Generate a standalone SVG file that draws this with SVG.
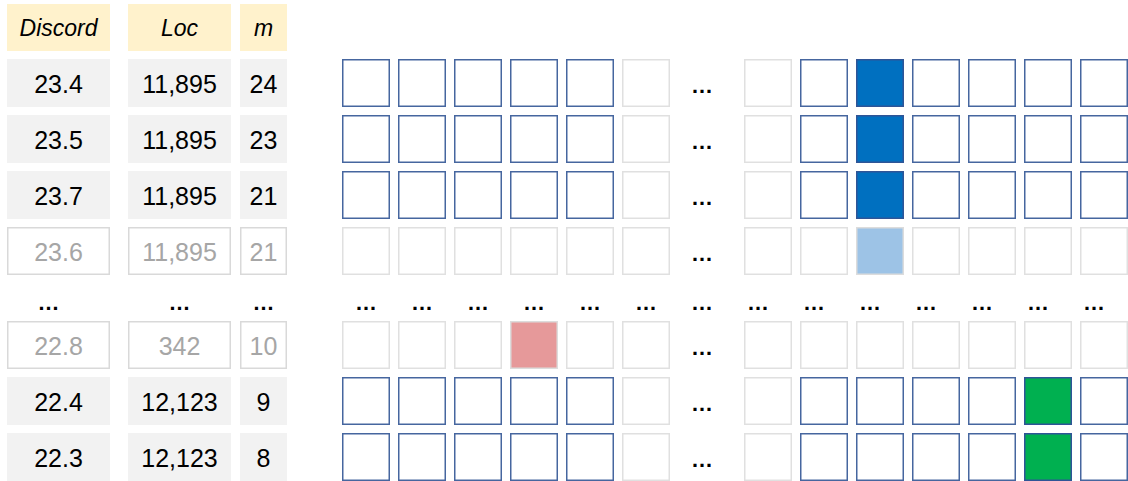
<svg xmlns="http://www.w3.org/2000/svg" width="1128" height="481" viewBox="0 0 1128 481">
<style>
text{font-family:"Liberation Sans",Arial,sans-serif;text-anchor:middle}
.hd{fill:#fff2cc}
.hdt{font-size:23px;font-style:italic;fill:#000}
.on{fill:#f2f2f2}
.off{fill:#fff;stroke:#d9d9d9;stroke-width:1.5}
.t{font-size:25px;fill:#000}
.tf{font-size:25px;fill:#a6a6a6}
.sq{fill:#fff;stroke:#46669f;stroke-width:1.5}
.sf{fill:#fff;stroke:#e0e0e0;stroke-width:1.5}
.blue{fill:#0070c0;stroke:#2f5597;stroke-width:1.5}
.lblue{fill:#9dc3e6;stroke:#dcdcdc;stroke-width:1.5}
.pink{fill:#e6999a;stroke:#dcdcdc;stroke-width:1.5}
.green{fill:#00b050;stroke:#2f5597;stroke-width:1.5}
.d{font-size:22px;font-weight:bold;fill:#000}
</style>
<defs>
<g id="rowA">
<rect class="sq" x="342.75" y="0.75" width="46.5" height="46.5"/>
<rect class="sq" x="398.75" y="0.75" width="46.5" height="46.5"/>
<rect class="sq" x="454.75" y="0.75" width="46.5" height="46.5"/>
<rect class="sq" x="510.75" y="0.75" width="46.5" height="46.5"/>
<rect class="sq" x="566.75" y="0.75" width="46.5" height="46.5"/>
<rect class="sf" x="622.75" y="0.75" width="46.5" height="46.5"/>
<text class="d" x="702" y="34">…</text>
<rect class="sf" x="744.75" y="0.75" width="46.5" height="46.5"/>
<rect class="sq" x="800.75" y="0.75" width="46.5" height="46.5"/>
<rect class="sq" x="856.75" y="0.75" width="46.5" height="46.5"/>
<rect class="sq" x="912.75" y="0.75" width="46.5" height="46.5"/>
<rect class="sq" x="968.75" y="0.75" width="46.5" height="46.5"/>
<rect class="sq" x="1024.75" y="0.75" width="46.5" height="46.5"/>
<rect class="sq" x="1080.75" y="0.75" width="46.5" height="46.5"/>
</g>
<g id="rowF">
<rect class="sf" x="342.75" y="0.75" width="46.5" height="46.5"/>
<rect class="sf" x="398.75" y="0.75" width="46.5" height="46.5"/>
<rect class="sf" x="454.75" y="0.75" width="46.5" height="46.5"/>
<rect class="sf" x="510.75" y="0.75" width="46.5" height="46.5"/>
<rect class="sf" x="566.75" y="0.75" width="46.5" height="46.5"/>
<rect class="sf" x="622.75" y="0.75" width="46.5" height="46.5"/>
<text class="d" x="702" y="34">…</text>
<rect class="sf" x="744.75" y="0.75" width="46.5" height="46.5"/>
<rect class="sf" x="800.75" y="0.75" width="46.5" height="46.5"/>
<rect class="sf" x="856.75" y="0.75" width="46.5" height="46.5"/>
<rect class="sf" x="912.75" y="0.75" width="46.5" height="46.5"/>
<rect class="sf" x="968.75" y="0.75" width="46.5" height="46.5"/>
<rect class="sf" x="1024.75" y="0.75" width="46.5" height="46.5"/>
<rect class="sf" x="1080.75" y="0.75" width="46.5" height="46.5"/>
</g>
</defs>

<g id="header">
<rect class="hd" x="7" y="4" width="103" height="47"/>
<rect class="hd" x="128" y="4" width="103" height="47"/>
<rect class="hd" x="240" y="4" width="47" height="47"/>
<text class="hdt" x="58.5" y="36">Discord</text>
<text class="hdt" x="179.5" y="36">Loc</text>
<text class="hdt" x="263.5" y="36">m</text>
</g>

<g id="row1">
<rect class="on" x="7" y="59" width="103" height="48"/>
<rect class="on" x="128" y="59" width="103" height="48"/>
<rect class="on" x="240" y="59" width="47" height="48"/>
<text class="t" x="58.5" y="93">23.4</text>
<text class="t" x="179.5" y="93">11,895</text>
<text class="t" x="263.5" y="93">24</text>
<use href="#rowA" y="59"/>
<rect class="blue" x="856.75" y="59.75" width="46.5" height="46.5"/>
</g>

<g id="row2">
<rect class="on" x="7" y="115" width="103" height="48"/>
<rect class="on" x="128" y="115" width="103" height="48"/>
<rect class="on" x="240" y="115" width="47" height="48"/>
<text class="t" x="58.5" y="149">23.5</text>
<text class="t" x="179.5" y="149">11,895</text>
<text class="t" x="263.5" y="149">23</text>
<use href="#rowA" y="115"/>
<rect class="blue" x="856.75" y="115.75" width="46.5" height="46.5"/>
</g>

<g id="row3">
<rect class="on" x="7" y="171" width="103" height="48"/>
<rect class="on" x="128" y="171" width="103" height="48"/>
<rect class="on" x="240" y="171" width="47" height="48"/>
<text class="t" x="58.5" y="205">23.7</text>
<text class="t" x="179.5" y="205">11,895</text>
<text class="t" x="263.5" y="205">21</text>
<use href="#rowA" y="171"/>
<rect class="blue" x="856.75" y="171.75" width="46.5" height="46.5"/>
</g>

<g id="row4">
<rect class="off" x="7.75" y="227.75" width="101.5" height="46.5"/>
<rect class="off" x="128.75" y="227.75" width="101.5" height="46.5"/>
<rect class="off" x="240.75" y="227.75" width="45.5" height="46.5"/>
<text class="tf" x="58.5" y="261">23.6</text>
<text class="tf" x="179.5" y="261">11,895</text>
<text class="tf" x="263.5" y="261">21</text>
<use href="#rowF" y="227"/>
<rect class="lblue" x="856.75" y="227.75" width="46.5" height="46.5"/>
</g>

<g id="dots">
<text class="d" x="48.5" y="310">…</text>
<text class="d" x="179.5" y="310">…</text>
<text class="d" x="263.5" y="310">…</text>
<text class="d" x="366" y="310">…</text>
<text class="d" x="422" y="310">…</text>
<text class="d" x="478" y="310">…</text>
<text class="d" x="534" y="310">…</text>
<text class="d" x="590" y="310">…</text>
<text class="d" x="646" y="310">…</text>
<text class="d" x="702" y="310">…</text>
<text class="d" x="758" y="310">…</text>
<text class="d" x="814" y="310">…</text>
<text class="d" x="870" y="310">…</text>
<text class="d" x="926" y="310">…</text>
<text class="d" x="982" y="310">…</text>
<text class="d" x="1038" y="310">…</text>
<text class="d" x="1094" y="310">…</text>
</g>

<g id="row5">
<rect class="off" x="7.75" y="321.75" width="101.5" height="46.5"/>
<rect class="off" x="128.75" y="321.75" width="101.5" height="46.5"/>
<rect class="off" x="240.75" y="321.75" width="45.5" height="46.5"/>
<text class="tf" x="58.5" y="355">22.8</text>
<text class="tf" x="179.5" y="355">342</text>
<text class="tf" x="263.5" y="355">10</text>
<use href="#rowF" y="321"/>
<rect class="pink" x="510.75" y="321.75" width="46.5" height="46.5"/>
</g>

<g id="row6">
<rect class="on" x="7" y="377" width="103" height="48"/>
<rect class="on" x="128" y="377" width="103" height="48"/>
<rect class="on" x="240" y="377" width="47" height="48"/>
<text class="t" x="58.5" y="411">22.4</text>
<text class="t" x="179.5" y="411">12,123</text>
<text class="t" x="263.5" y="411">9</text>
<use href="#rowA" y="377"/>
<rect class="green" x="1024.75" y="377.75" width="46.5" height="46.5"/>
</g>

<g id="row7">
<rect class="on" x="7" y="433" width="103" height="48"/>
<rect class="on" x="128" y="433" width="103" height="48"/>
<rect class="on" x="240" y="433" width="47" height="48"/>
<text class="t" x="58.5" y="467">22.3</text>
<text class="t" x="179.5" y="467">12,123</text>
<text class="t" x="263.5" y="467">8</text>
<use href="#rowA" y="433"/>
<rect class="green" x="1024.75" y="433.75" width="46.5" height="46.5"/>
</g>
</svg>
